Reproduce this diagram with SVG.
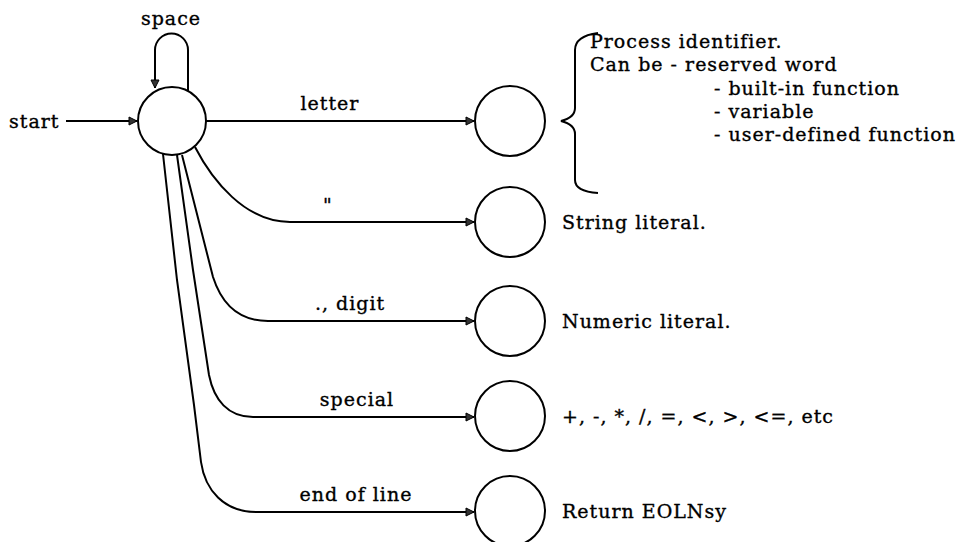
<svg xmlns="http://www.w3.org/2000/svg" width="974" height="542" viewBox="0 0 974 542">
<defs>
<marker id="arr" markerWidth="10" markerHeight="10" refX="9" refY="5" orient="auto" markerUnits="userSpaceOnUse">
<path d="M1,1 L9,5 L1,9 Z" fill="#333" stroke="#000" stroke-width="1"/>
</marker>
<style>
.st{fill:#fff;stroke:#000;stroke-width:2}
.e{fill:none;stroke:#000;stroke-width:2}
.t{font-family:"DejaVu Serif","Liberation Serif",serif;font-size:19px;letter-spacing:1px;fill:#000;stroke:#000;stroke-width:0.35}
.m{text-anchor:middle}
</style>
</defs>
<rect width="974" height="542" fill="#fff"/>
<g id="connectors">
<path class="e" d="M66,121 H137" marker-end="url(#arr)"/>
<path class="e" d="M188,93 V50 A16.5,16.5 0 0 0 155,50 V88" marker-end="url(#arr)"/>
<path class="e" d="M206,121 H474" marker-end="url(#arr)"/>
<path class="e" d="M195,147 C212,180 245,222 290,222 H474" marker-end="url(#arr)"/>
<path class="e" d="M182,155 L213,277 C222,305 240,321 268,321 H474" marker-end="url(#arr)"/>
<path class="e" d="M177,155 L193,270 L209,375 C214,400 228,417 253,417 H474" marker-end="url(#arr)"/>
<path class="e" d="M163,154 L177,280 L194,405 L201,462 C205,490 224,512 256,512 H474" marker-end="url(#arr)"/>
<path class="e" d="M598,33 C583,35 575,40 575,50 V108 C575,115 569,119 561,121 C569,123 575,127 575,134 V180 C575,188 583,192 598,193"/>
</g>
<g id="labels">
<text class="t" x="9" y="128">start</text>
<text class="t m" x="171" y="25">space</text>
<text class="t m" x="330" y="110">letter</text>
<text class="t" x="323" y="212">"</text>
<text class="t m" x="350" y="310">., digit</text>
<text class="t m" x="357" y="406">special</text>
<text class="t m" x="356" y="501">end of line</text>
</g>
<g id="n0"><circle class="st" cx="172" cy="121" r="34"/></g>
<g id="n1"><circle class="st" cx="510" cy="121" r="35"/></g>
<g id="n2"><circle class="st" cx="510" cy="222" r="35"/></g>
<g id="n3"><circle class="st" cx="510" cy="321" r="35"/></g>
<g id="n4"><circle class="st" cx="510" cy="416" r="35"/></g>
<g id="n5"><circle class="st" cx="510" cy="511" r="35"/></g>
<g id="notes">
<text class="t" x="590" y="48">Process identifier.</text>
<text class="t" x="590" y="71">Can be - reserved word</text>
<text class="t" x="714" y="95">- built-in function</text>
<text class="t" x="714" y="118">- variable</text>
<text class="t" x="714" y="141">- user-defined function</text>
<text class="t" x="562" y="229">String literal.</text>
<text class="t" x="562" y="328">Numeric literal.</text>
<text class="t" x="562" y="423">+, -, *, /, =, &lt;, &gt;, &lt;=, etc</text>
<text class="t" x="562" y="518">Return EOLNsy</text>
</g>
</svg>
